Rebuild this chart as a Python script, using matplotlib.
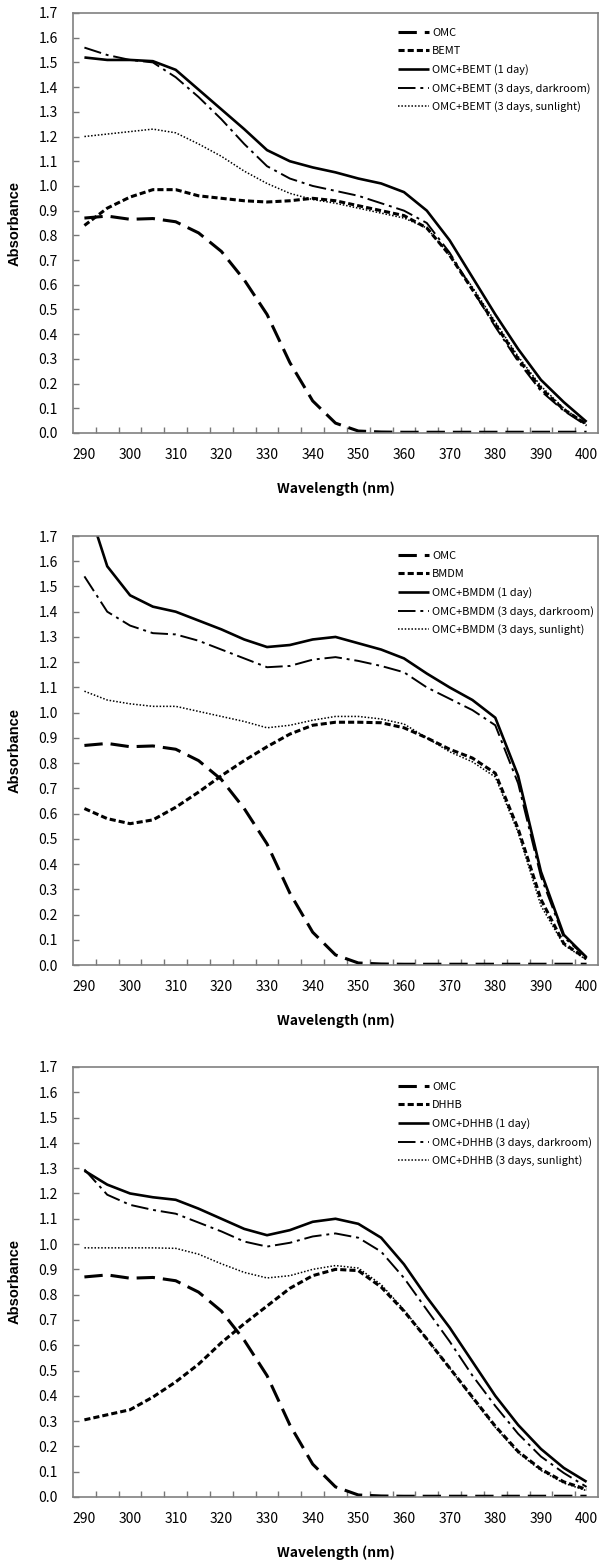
import matplotlib
matplotlib.use("Agg")
import matplotlib.pyplot as plt
from matplotlib.ticker import FixedLocator, FormatStrFormatter

# wavelength grid (nm)
WL = [290, 295, 300, 305, 310, 315, 320, 325, 330, 335, 340, 345,
      350, 355, 360, 365, 370, 375, 380, 385, 390, 395, 400]

# OMC alone (same curve in all three panels)
OMC = [0.870, 0.878, 0.865, 0.868, 0.855, 0.810, 0.735, 0.620, 0.480, 0.285, 0.130, 0.040,
       0.008, 0.004, 0.003, 0.003, 0.003, 0.003, 0.003, 0.003, 0.003, 0.003, 0.003]

# panel 1: BEMT
BEMT = [0.84, 0.91, 0.955, 0.985, 0.985, 0.96, 0.95, 0.94, 0.935, 0.94, 0.95, 0.94,
        0.92, 0.90, 0.88, 0.83, 0.72, 0.58, 0.44, 0.30, 0.18, 0.095, 0.035]
BEMT_1D = [1.52, 1.51, 1.51, 1.505, 1.47, 1.39, 1.31, 1.23, 1.145, 1.10, 1.075, 1.055,
           1.03, 1.01, 0.975, 0.90, 0.78, 0.63, 0.48, 0.34, 0.215, 0.125, 0.045]
BEMT_DARK = [1.56, 1.53, 1.51, 1.50, 1.44, 1.36, 1.27, 1.17, 1.08, 1.03, 1.00, 0.98,
             0.96, 0.93, 0.90, 0.85, 0.73, 0.58, 0.43, 0.29, 0.17, 0.09, 0.03]
BEMT_SUN = [1.20, 1.21, 1.22, 1.23, 1.215, 1.17, 1.12, 1.06, 1.01, 0.97, 0.945, 0.93,
            0.91, 0.89, 0.87, 0.83, 0.72, 0.59, 0.45, 0.31, 0.19, 0.10, 0.035]

# panel 2: BMDM
BMDM = [0.62, 0.58, 0.56, 0.575, 0.625, 0.685, 0.75, 0.81, 0.865, 0.915, 0.95, 0.962,
        0.962, 0.96, 0.94, 0.90, 0.855, 0.82, 0.76, 0.54, 0.26, 0.085, 0.025]
BMDM_1D = [1.86, 1.58, 1.465, 1.42, 1.40, 1.365, 1.33, 1.29, 1.26, 1.268, 1.29, 1.30,
           1.275, 1.25, 1.215, 1.155, 1.10, 1.05, 0.98, 0.75, 0.37, 0.12, 0.03]
BMDM_DARK = [1.54, 1.40, 1.345, 1.315, 1.31, 1.285, 1.25, 1.215, 1.18, 1.185, 1.21, 1.22,
             1.205, 1.185, 1.16, 1.10, 1.055, 1.01, 0.95, 0.72, 0.35, 0.11, 0.03]
BMDM_SUN = [1.085, 1.05, 1.035, 1.025, 1.025, 1.005, 0.985, 0.965, 0.94, 0.95, 0.97, 0.985,
            0.985, 0.975, 0.955, 0.90, 0.845, 0.805, 0.745, 0.525, 0.235, 0.08, 0.02]

# panel 3: DHHB
DHHB = [0.305, 0.325, 0.345, 0.395, 0.455, 0.525, 0.61, 0.685, 0.755, 0.825, 0.875, 0.90,
        0.895, 0.83, 0.735, 0.625, 0.51, 0.395, 0.28, 0.18, 0.11, 0.06, 0.03]
DHHB_1D = [1.29, 1.235, 1.20, 1.185, 1.175, 1.14, 1.10, 1.06, 1.035, 1.055, 1.088, 1.10,
           1.08, 1.025, 0.92, 0.79, 0.67, 0.535, 0.40, 0.285, 0.19, 0.115, 0.06]
DHHB_DARK = [1.295, 1.195, 1.155, 1.135, 1.12, 1.085, 1.05, 1.01, 0.99, 1.005, 1.03, 1.042,
             1.025, 0.97, 0.866, 0.74, 0.615, 0.48, 0.36, 0.25, 0.16, 0.095, 0.04]
DHHB_SUN = [0.985, 0.985, 0.985, 0.985, 0.983, 0.96, 0.922, 0.888, 0.866, 0.875, 0.90, 0.915,
            0.905, 0.84, 0.74, 0.625, 0.51, 0.39, 0.275, 0.175, 0.105, 0.055, 0.025]

PANELS = [
    ("BEMT", BEMT, BEMT_1D, BEMT_DARK, BEMT_SUN),
    ("BMDM", BMDM, BMDM_1D, BMDM_DARK, BMDM_SUN),
    ("DHHB", DHHB, DHHB_1D, DHHB_DARK, DHHB_SUN),
]

# axes boxes in pixels (top, bottom) on a 600x1564 canvas
BOXES = [(13, 433), (536, 965), (1067, 1497)]
W, H = 600, 1564
LEFT, RIGHT = 73, 598

# narrow latin face (Source Sans glyphs inside the CJK family), close to the Gulim look
plt.rcParams["font.family"] = ["Noto Sans CJK KR", "DejaVu Sans"]

STYLES = [
    dict(lw=2.2, dashes=(6, 2.6)),            # OMC: long dash
    dict(lw=2.2, dashes=(2.0, 1.0)),          # UV filter alone: short dash
    dict(lw=1.9, ls="-"),                     # 1 day: solid
    dict(lw=1.4, dashes=(9, 2.5, 1.5, 2.5)),  # darkroom: long dash dot
    dict(lw=1.1, dashes=(1, 1.2)),            # sunlight: dotted
]

fig = plt.figure(figsize=(W / 100, H / 100), dpi=100)

for (name, filt, d1, dark, sun), (top, bot) in zip(PANELS, BOXES):
    ax = fig.add_axes([LEFT / W, 1 - bot / H, (RIGHT - LEFT) / W, (bot - top) / H])
    labels = ["OMC", name, f"OMC+{name} (1 day)",
              f"OMC+{name} (3 days, darkroom)", f"OMC+{name} (3 days, sunlight)"]
    for ys, lab, st in zip([OMC, filt, d1, dark, sun], labels, STYLES):
        ax.plot(WL, ys, color="black", label=lab, solid_capstyle="butt",
                dash_capstyle="butt", **st)

    ax.set_xlim(287.5, 402.5)
    ax.set_ylim(0, 1.7)
    ax.xaxis.set_major_locator(FixedLocator(list(range(290, 401, 10))))
    ax.xaxis.set_minor_locator(FixedLocator([292.5 + 5 * i for i in range(22)]))
    ax.yaxis.set_major_locator(FixedLocator([i / 10 for i in range(18)]))
    ax.yaxis.set_major_formatter(FormatStrFormatter("%.1f"))
    ax.tick_params(axis="x", which="major", length=0, pad=11, labelsize=10)
    ax.tick_params(axis="x", which="minor", direction="in", length=4, width=1, color="#777777")
    ax.tick_params(axis="y", which="major", direction="in", length=4, width=1,
                   color="#777777", pad=11, labelsize=10)
    for sp in ax.spines.values():
        sp.set_color("#808080")
        sp.set_linewidth(1.2)

    ax.set_ylabel("Absorbance", family="Liberation Sans", fontweight="bold", fontsize=10.5)
    ax.yaxis.set_label_coords(-51 / (RIGHT - LEFT), 0.5)
    ax.set_xlabel("Wavelength (nm)", fontweight="bold", fontsize=10)
    ax.xaxis.set_label_coords(0.5, -48 / (bot - top))

    ax.legend(loc="upper left", bbox_to_anchor=((398 - LEFT) / (RIGHT - LEFT), 1 - 15 / (bot - top)),
              frameon=False, fontsize=7.9, handlelength=2.8, handletextpad=0.3,
              labelspacing=0.72, borderpad=0, borderaxespad=0)

fig.savefig("out.png", dpi=100)
